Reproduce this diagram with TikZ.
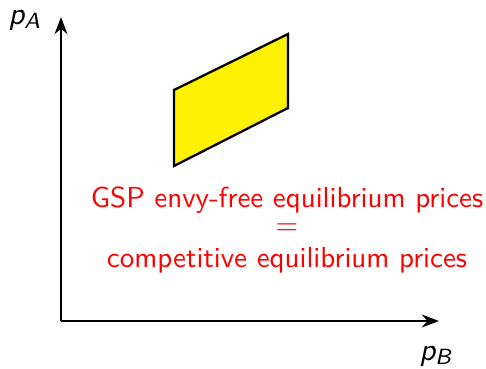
\documentclass[tikz,border=0pt]{standalone}
\usepackage{amsmath}
\usepackage{tikz}
\usetikzlibrary{arrows.meta, positioning}

\tikzset{
  axis/.style={-{Stealth[length=6pt,width=4.5pt]},line width=0.75pt},
  axlabel/.style={font=\sffamily\slshape\fontsize{11}{13}\selectfont},
  region/.style={draw=black,fill=yellow,line width=0.8pt},
  claim/.style={text=red,font=\sffamily\fontsize{10.15}{12}\selectfont,inner sep=0pt}
}

\begin{document}
\begin{tikzpicture}[x=0.35pt,y=-0.35pt]
  \useasboundingbox (0,0) rectangle (486,369);
  % axes
  \coordinate (O) at (61,321);
  \coordinate (ytop) at (61,17);
  \coordinate (xend) at (439,321);
  \draw[axis] (O) -- (ytop);
  \draw[axis] (O) -- (xend);
  \node[axlabel] (pA) at (25,20) {p\textsubscript{A}};
  \node[axlabel] (pB) at (436,356) {p\textsubscript{B}};
  % price region
  \coordinate (c1) at (174,90);
  \coordinate (c2) at (288,34);
  \coordinate (c3) at (288,108);
  \coordinate (c4) at (174,166);
  \draw[region] (c1) -- (c2) -- (c3) -- (c4) -- cycle;
  % labels
  \node[claim] (gsp) at (287,200) {GSP envy-free equilibrium prices};
  \node[claim] (eq) at (287,229) {=};
  \node[claim] (ce) at (287,260) {competitive equilibrium prices};
\end{tikzpicture}
\end{document}
